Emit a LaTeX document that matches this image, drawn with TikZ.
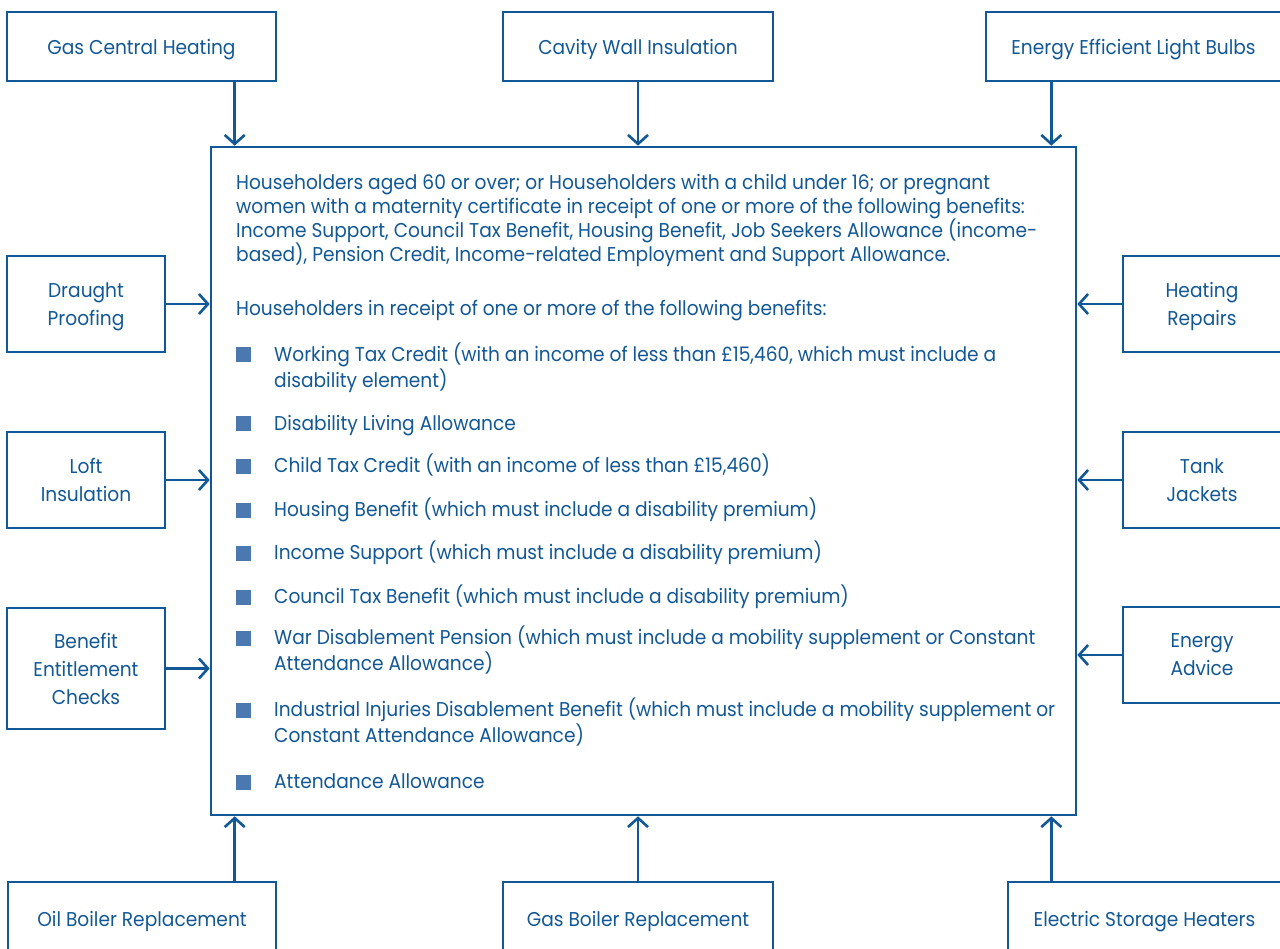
\documentclass[tikz,border=0pt]{standalone}
\usepackage{fontspec}
\setmainfont[FakeStretch=0.93]{Poppins}
\usetikzlibrary{arrows.meta,positioning}
\definecolor{schemeblue}{RGB}{18,88,150}
\definecolor{bulletblue}{RGB}{75,120,175}
\newcommand{\listfont}{\fontsize{20}{24}\selectfont}
\newcommand{\unitfont}{\fontsize{20}{28}\selectfont}

\begin{document}
\begin{tikzpicture}[x=1pt, y=-1pt,
  unit/.style={draw=schemeblue, line width=2.6pt, text=schemeblue, font=\unitfont, align=center, inner sep=0pt, text depth=0pt},
  arr/.style={draw=schemeblue, line width=2.6pt, -{Straight Barb[length=9pt, width=20pt]}},
  txt/.style={anchor=mid west, inner sep=0pt, text=schemeblue, font=\listfont, yshift=-4pt},
  bullet/.style={fill=bulletblue, minimum size=15pt, inner sep=0pt}]
\useasboundingbox (0,0) rectangle (1280,949);
% the criteria box
\node[unit, minimum width=865pt, minimum height=668pt] (main) at (643.5,481) {};
% measures, top row
\node[unit, minimum width=269pt, minimum height=69pt] (gch) at (141.5,46.5) {Gas Central Heating};
\node[unit, minimum width=270pt, minimum height=69pt] (cwi) at (638,46.5) {Cavity Wall Insulation};
\node[unit, minimum width=295pt, minimum height=69pt] (eelb) at (1133.5,46.5) {Energy Efficient Light Bulbs};
% measures, left side
\node[unit, minimum width=158pt, minimum height=96pt] (dp) at (86,304) {Draught\\Proofing};
\node[unit, minimum width=158pt, minimum height=96pt] (li) at (86,480) {Loft\\Insulation};
\node[unit, minimum width=158pt, minimum height=121pt] (bec) at (86,668.5) {Benefit\\Entitlement\\Checks};
% measures, right side
\node[unit, minimum width=158pt, minimum height=96pt] (hr) at (1202,304) {Heating\\Repairs};
\node[unit, minimum width=158pt, minimum height=96pt] (tj) at (1202,480) {Tank\\Jackets};
\node[unit, minimum width=158pt, minimum height=96pt] (ea) at (1202,655) {Energy\\Advice};
% measures, bottom row
\node[unit, minimum width=268pt, minimum height=73pt] (obr) at (142,918.5) {Oil Boiler Replacement};
\node[unit, minimum width=270pt, minimum height=73pt] (gbr) at (638,918.5) {Gas Boiler Replacement};
\node[unit, minimum width=273pt, minimum height=73pt] (esh) at (1144.5,918.5) {Electric Storage Heaters};
% arrow ends on the criteria box
\coordinate (tl) at ([xshift=25pt]main.north west);
\coordinate (tr) at ([xshift=-26pt]main.north east);
\coordinate (bl) at ([xshift=25pt]main.south west);
\coordinate (br) at ([xshift=-26pt]main.south east);
\draw[arr] (gch.south -| tl) -- (tl);
\draw[arr] (cwi.south) -- (cwi.south |- main.north);
\draw[arr] (eelb.south -| tr) -- (tr);
\draw[arr] (obr.north -| bl) -- (bl);
\draw[arr] (gbr.north) -- (gbr.north |- main.south);
\draw[arr] (esh.north -| br) -- (br);
\draw[arr] (dp.east) -- (dp.east -| main.west);
\draw[arr] (li.east) -- (li.east -| main.west);
\draw[arr] (bec.east) -- (bec.east -| main.west);
\draw[arr] (hr.west) -- (hr.west -| main.east);
\draw[arr] (tj.west) -- (tj.west -| main.east);
\draw[arr] (ea.west) -- (ea.west -| main.east);
% criteria text
\node[txt] (p1a) at (236,183) {Householders aged 60 or over; or Householders with a child under 16; or pregnant};
\node[txt] (p1b) at (236,207) {women with a maternity certificate in receipt of one or more of the following benefits:};
\node[txt] (p1c) at (236,231) {Income Support, Council Tax Benefit, Housing Benefit, Job Seekers Allowance (income-};
\node[txt] (p1d) at (236,255) {based), Pension Credit, Income-related Employment and Support Allowance.};
\node[txt] (p2) at (236,309) {Householders in receipt of one or more of the following benefits:};
% benefits list
\node[bullet] (b1) at (243.5,355) {};
\node[txt] (i1a) at (274,355) {Working Tax Credit (with an income of less than £15,460, which must include a};
\node[txt] (i1b) at (274,381) {disability element)};
\node[bullet] (b2) at (243.5,424) {};
\node[txt] (i2) at (274,424) {Disability Living Allowance};
\node[bullet] (b3) at (243.5,466) {};
\node[txt] (i3) at (274,466) {Child Tax Credit (with an income of less than £15,460)};
\node[bullet] (b4) at (243.5,510) {};
\node[txt] (i4) at (274,510) {Housing Benefit (which must include a disability premium)};
\node[bullet] (b5) at (243.5,553) {};
\node[txt] (i5) at (274,553) {Income Support (which must include a disability premium)};
\node[bullet] (b6) at (243.5,597) {};
\node[txt] (i6) at (274,597) {Council Tax Benefit (which must include a disability premium)};
\node[bullet] (b7) at (243.5,638) {};
\node[txt] (i7a) at (274,638) {War Disablement Pension (which must include a mobility supplement or Constant};
\node[txt] (i7b) at (274,664) {Attendance Allowance)};
\node[bullet] (b8) at (243.5,710) {};
\node[txt] (i8a) at (274,710) {Industrial Injuries Disablement Benefit (which must include a mobility supplement or};
\node[txt] (i8b) at (274,736) {Constant Attendance Allowance)};
\node[bullet] (b9) at (243.5,782) {};
\node[txt] (i9) at (274,782) {Attendance Allowance};
\end{tikzpicture}
\end{document}
